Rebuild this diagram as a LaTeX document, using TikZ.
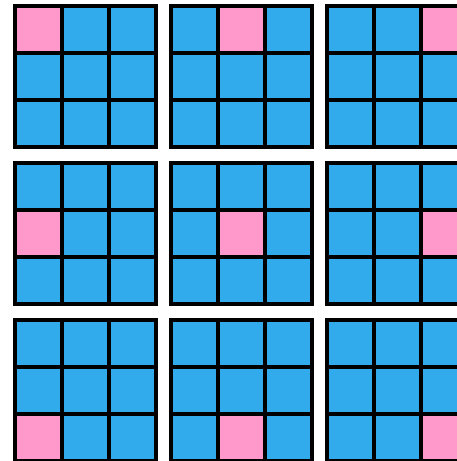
\documentclass[tikz,border=0pt]{standalone}
\definecolor{cellblue}{RGB}{49,171,235}
\definecolor{cellpink}{RGB}{255,153,204}

\begin{document}
\begin{tikzpicture}[x=1pt,y=-1pt,line cap=rect,line join=miter]
        \useasboundingbox (0,0) rectangle (457,461);
        \clip (0,0) rectangle (457,461);

        % Nueve rejillas de 3x3, una celda rosa en cada una
        \foreach \gr in {0,1,2}{
            \foreach \gc in {0,1,2}{
                \begin{scope}[shift={(15+156*\gc,6+157*\gr)}]
                    \fill[cellblue] (0,0) rectangle (141,141);
                    \fill[cellpink] (47*\gc,47*\gr) rectangle ++(47,47);
                    \foreach \k in {0,...,3}{
                        \draw[line width=4pt] (47*\k,0) -- (47*\k,141);
                        \draw[line width=4pt] (0,47*\k) -- (141,47*\k);
                    }
                \end{scope}
            }
        }
    \end{tikzpicture}
\end{document}
